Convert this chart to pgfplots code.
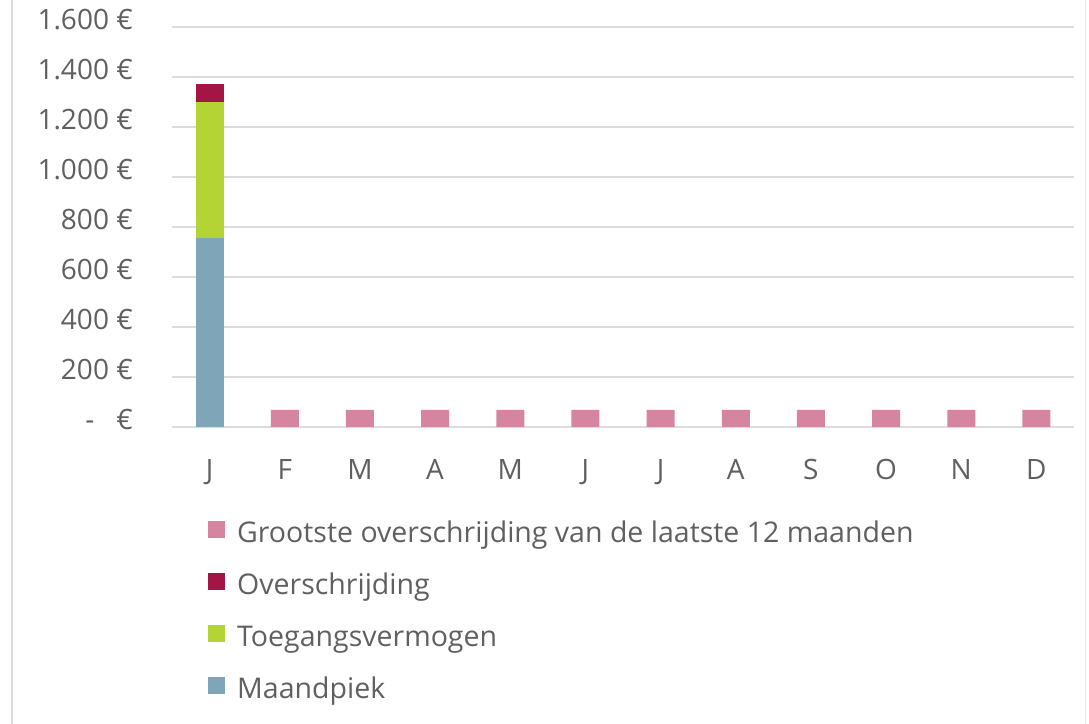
\documentclass[border=0pt]{standalone}
\usepackage{fontspec}
\setmainfont{Open Sans}
\usepackage{pgfplots}
\pgfplotsset{compat=1.18}
\definecolor{cMaand}{HTML}{7FA5B8}
\definecolor{cToeg}{HTML}{B4D334}
\definecolor{cOver}{HTML}{A31545}
\definecolor{cGroot}{HTML}{D585A0}
\definecolor{cGrid}{HTML}{DCDCDC}
\definecolor{cText}{HTML}{606060}
\begin{document}
\begin{tikzpicture}[x=1bp,y=1bp]
\useasboundingbox[fill=white] (0,0) rectangle (1089,724);
\draw[cGrid,line width=1.5bp] (12,0) -- (12,724);
\draw[cGrid!60,line width=1bp] (1085,0) -- (1085,724);
\begin{axis}[
  at={(172bp,297bp)}, anchor=south west,
  scale only axis, width=902bp, height=400bp,
  xmin=-0.5, xmax=11.5, ymin=0, ymax=1600,
  ybar stacked, bar width=28bp,
  axis line style={draw=none},
  major tick length=0pt,
  ymajorgrids, grid style={cGrid,line width=1.3bp},
  xtick={0,...,11},
  xticklabels={J,F,M,A,M,J,J,A,S,O,N,D},
  ytick={0,200,...,1600},
  yticklabels={{-\hspace{22bp}€},{200 €},{400 €},{600 €},{800 €},{1.000 €},{1.200 €},{1.400 €},{1.600 €}},
  tick label style={font=\fontsize{28bp}{32bp}\selectfont, text=cText, inner sep=0pt},
  yticklabel style={anchor=mid east, xshift=-39bp},
  xticklabel style={anchor=base, yshift=-53bp},
  reverse legend,
  legend style={at={(0.0399,-0.2338)}, anchor=north west, draw=none, fill=none,
    inner sep=0pt, row sep=22bp, column sep=12bp,
    font=\fontsize{28.5bp}{32bp}\selectfont, text=cText,
    nodes={inner sep=0pt, text height=18bp, text depth=8bp}},
  legend cell align=left,
  legend image code/.code={\fill[#1] (0bp,0bp) rectangle (17bp,17bp);},
]
\addplot[fill=cMaand, draw=none] coordinates {(0,755) (1,0) (2,0) (3,0) (4,0) (5,0) (6,0) (7,0) (8,0) (9,0) (10,0) (11,0)};
\addlegendentry{Maandpiek}
\addplot[fill=cToeg, draw=none] coordinates {(0,545) (1,0) (2,0) (3,0) (4,0) (5,0) (6,0) (7,0) (8,0) (9,0) (10,0) (11,0)};
\addlegendentry{Toegangsvermogen}
\addplot[fill=cOver, draw=none] coordinates {(0,72) (1,0) (2,0) (3,0) (4,0) (5,0) (6,0) (7,0) (8,0) (9,0) (10,0) (11,0)};
\addlegendentry{Overschrijding}
\addplot[fill=cGroot, draw=none] coordinates {(0,0) (1,68) (2,68) (3,68) (4,68) (5,68) (6,68) (7,68) (8,68) (9,68) (10,68) (11,68)};
\addlegendentry{Grootste overschrijding van de laatste 12 maanden}
\end{axis}
\end{tikzpicture}
\end{document}
